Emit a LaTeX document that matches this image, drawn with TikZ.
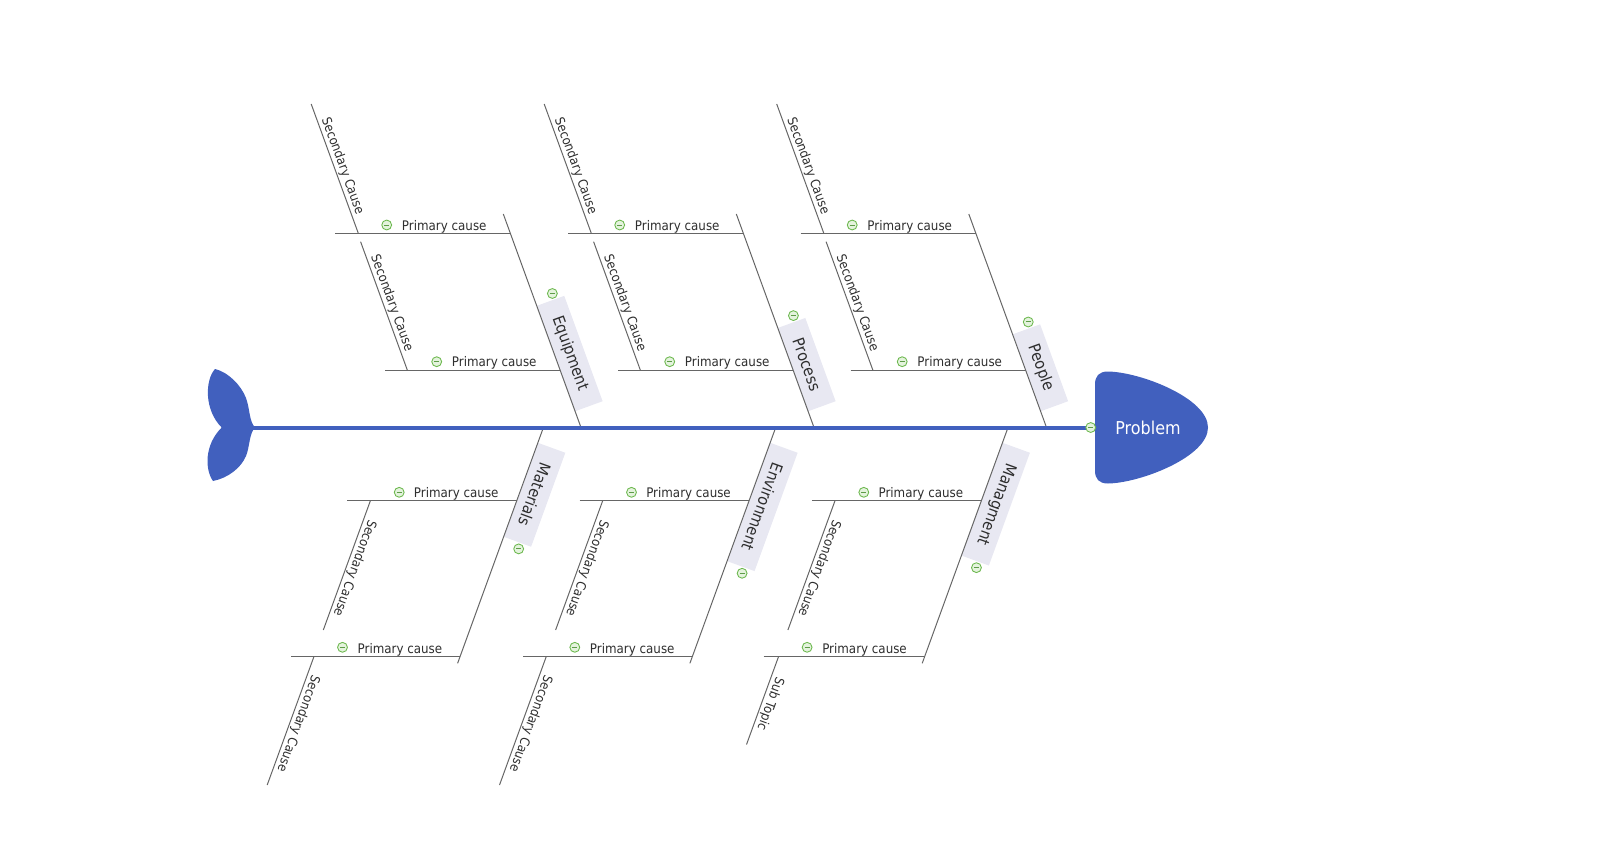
\documentclass[tikz,border=0pt]{standalone}
\usepackage{fontspec}
\setmainfont{DejaVu Sans}[FakeStretch=0.9]
\usetikzlibrary{calc}
\definecolor{spineblue}{HTML}{4160BE}
\definecolor{bonegray}{HTML}{666666}
\definecolor{txtgray}{HTML}{2E2E2E}
\definecolor{boxfill}{HTML}{E8E8F2}
\definecolor{mgreen}{HTML}{6CB84E}
\definecolor{mfill}{HTML}{E4F3DD}
\definecolor{mdark}{HTML}{5E9C48}
\tikzset{
  bone/.style={draw=bonegray, line width=0.75pt},
  ptext/.style={text=txtgray, font=\fontsize{9.9}{11}\selectfont, inner sep=0pt},
  stext/.style={text=txtgray, font=\fontsize{9.75}{11}\selectfont, inner sep=1.2pt},
  labbox/.style={fill=boxfill, text=txtgray, font=\fontsize{12}{14}\selectfont,
    minimum height=21.75pt, inner xsep=12.75pt, inner ysep=0pt},
  minus/.style={circle, draw=mgreen, fill=mfill, line width=0.65pt, minimum size=7.4pt,
    inner sep=0pt, path picture={\draw[mdark, line width=0.75pt]
      ([xshift=-1.9pt]path picture bounding box.center) --
      ([xshift=1.9pt]path picture bounding box.center);}},
}
% top group: name, spine x, label
\newcommand{\topgroup}[3]{%
\begin{scope}[shift={(#2,0)}]
  \coordinate (#1s) at (0,427.5);
  \coordinate (#1t) at (-77.7,214);
  \coordinate (#1b0) at (-5.8,411.5);
  \node[labbox, rotate=-70, anchor=south east] (#1lab) at (#1b0) {#3};
  \coordinate (#1w) at ($(#1lab.south west)!0.64!(#1lab.north west)$);
  \coordinate (#1e) at ($(#1lab.south east)!0.64!(#1lab.north east)$);
  \node[minus] (#1cl) at ($(#1w)!-4.5pt!(#1e)$) {};
  \draw[bone] (#1s) -- (#1t);
  % upper primary
  \coordinate (#1pa1) at (-246,233.3);
  \coordinate (#1pa2) at (-70.7,233.3);
  \draw[bone] (#1pa1) -- (#1pa2);
  \node[minus] (#1ca) at (-194.3,225) {};
  \node[ptext, anchor=base west] (#1pat) at (-179.3,230) {Primary cause};
  \coordinate (#1sa1) at (-269.8,104);
  \coordinate (#1sa2) at (-222.7,233.3);
  \draw[bone] (#1sa1) -- (#1sa2);
  \node[stext, rotate=-70, anchor=south] (#1sat) at ($(#1sa1)!0.5!(#1sa2)$) {Secondary Cause};
  % lower primary
  \coordinate (#1pb1) at (-196,370);
  \coordinate (#1pb2) at (-20.9,370);
  \draw[bone] (#1pb1) -- (#1pb2);
  \node[minus] (#1cb) at (-144.3,361.7) {};
  \node[ptext, anchor=base west] (#1pbt) at (-129.3,366.7) {Primary cause};
  \coordinate (#1sb1) at (-220.4,241.7);
  \coordinate (#1sb2) at (-173.7,370);
  \draw[bone] (#1sb1) -- (#1sb2);
  \node[stext, rotate=-70, anchor=south] (#1sbt) at ($(#1sb1)!0.5!(#1sb2)$) {Secondary Cause};
\end{scope}}
% bottom group: name, spine x, label, lower secondary text, lower secondary end (x,y), lower primary left x
\newcommand{\botgroup}[6]{%
\begin{scope}[shift={(#2,0)}]
  \coordinate (#1s) at (0,427.5);
  \coordinate (#1t) at (-85.8,663.3);
  \coordinate (#1b0) at (-5.5,442.5);
  \node[labbox, rotate=-110, anchor=south west] (#1lab) at (#1b0) {#3};
  \coordinate (#1w) at ($(#1lab.south west)!0.62!(#1lab.north west)$);
  \coordinate (#1e) at ($(#1lab.south east)!0.62!(#1lab.north east)$);
  \node[minus] (#1cl) at ($(#1e)!-4.5pt!(#1w)$) {};
  \draw[bone] (#1s) -- (#1t);
  % upper primary
  \coordinate (#1pa1) at (-196.2,500.7);
  \coordinate (#1pa2) at (-26.6,500.7);
  \draw[bone] (#1pa1) -- (#1pa2);
  \node[minus] (#1ca) at (-144.2,492.3) {};
  \node[ptext, anchor=base west] (#1pat) at (-129.7,497.4) {Primary cause};
  \coordinate (#1sa1) at (-173,500.7);
  \coordinate (#1sa2) at (-220.1,630);
  \draw[bone] (#1sa1) -- (#1sa2);
  \node[stext, rotate=-110, anchor=south] (#1sat) at ($(#1sa1)!0.5!(#1sa2)$) {Secondary Cause};
  % lower primary
  \coordinate (#1pb1) at (#6,656.7);
  \coordinate (#1pb2) at (-83.4,656.7);
  \draw[bone] (#1pb1) -- (#1pb2);
  \node[minus] (#1cb) at (-200.9,647.3) {};
  \node[ptext, anchor=base west] (#1pbt) at (-186,653.4) {Primary cause};
  \coordinate (#1sb1) at (-229.5,656.7);
  \coordinate (#1sb2) at #5;
  \draw[bone] (#1sb1) -- (#1sb2);
  \node[stext, rotate=-110, anchor=south] (#1sbt) at ($(#1sb1)!0.5!(#1sb2)$) {#4};
\end{scope}}

\begin{document}
\begin{tikzpicture}[x=0.75pt, y=-0.75pt]
  \useasboundingbox (0,0) rectangle (1619,857);
  % top groups
  \topgroup{eq}{581}{Equipment}
  \topgroup{pr}{814}{Process}
  \topgroup{pe}{1046.5}{People}
  % bottom groups
  \botgroup{ma}{543.4}{Materials}{Secondary Cause}{(-276.2,785)}{-252.3}
  \botgroup{en}{775.7}{Environment}{Secondary Cause}{(-276.2,785)}{-252.3}
  \botgroup{mg}{1008}{Managment}{Sub Topic}{(-261.5,744.5)}{-244.5}
  % tail
  \fill[spineblue] (255,427.5) .. controls (249,421) and (250,409) .. (246,398)
    .. controls (241,385) and (228,372) .. (215,369)
    .. controls (205,380) and (204,410) .. (221.7,427.5)
    .. controls (204,445) and (205,470) .. (213,481)
    .. controls (228,478) and (241,468) .. (246,456)
    .. controls (250,446) and (249,434) .. (255,427.5) -- cycle;
  \coordinate (tailj) at (252,427.5);
  % head
  \fill[spineblue] (1095,384.5) .. controls (1095,376) and (1099,371.5) .. (1108,371.5)
    .. controls (1140,372) and (1208,398) .. (1208,427.5)
    .. controls (1208,457) and (1140,483) .. (1108,483.5)
    .. controls (1099,483.5) and (1095,479) .. (1095,470.5) -- cycle;
  \node[text=white, font=\fontsize{13.3}{15}\selectfont, inner sep=0pt] (prob) at (1148,427.5) {Problem};
  % spine
  \coordinate (spineend) at (1086,427.5);
  \draw[spineblue, line width=3pt] (tailj) -- (spineend);
  \node[minus] (pc) at (1090.7,427.5) {};
\end{tikzpicture}
\end{document}
